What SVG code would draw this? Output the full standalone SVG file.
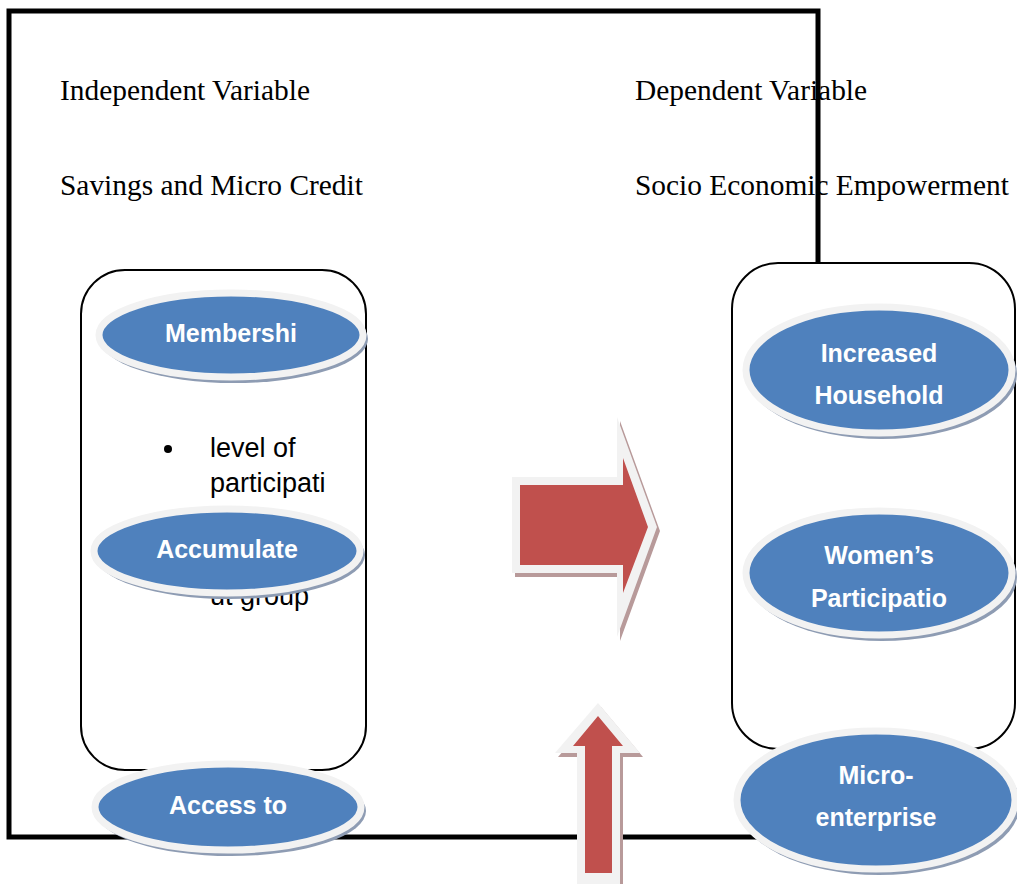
<svg xmlns="http://www.w3.org/2000/svg" width="1017" height="884" viewBox="0 0 1017 884">
  <style>
    .title { font-family: "Liberation Serif", "Times New Roman", serif; font-size: 29.4px; fill: #000; }
    .body { font-family: "Liberation Sans", Arial, sans-serif; font-size: 27px; fill: #000; }
    .lbl { font-family: "Liberation Sans", Arial, sans-serif; font-size: 25px; font-weight: bold; fill: #fff; text-anchor: middle; }
    .frame { fill: none; stroke: #000; stroke-width: 5; }
    .box { fill: #fff; stroke: #000; stroke-width: 2; }
    .oval { fill: #4f81bd; stroke: #f2f2f2; stroke-width: 7; }
    .oval-shadow { fill: #8e9cb3; }
    .arrow-rim { fill: #f2f2f2; }
    .arrow-body { fill: #c0504d; }
    .arrow-shadow { fill: #b89a9a; }
  </style>

  <rect width="1017" height="884" fill="#fff"/>

  <!-- headings -->
  <g id="headings">
    <text class="title" x="60" y="100">Independent Variable</text>
    <text class="title" x="60" y="195">Savings and Micro Credit</text>
    <text class="title" x="635" y="100">Dependent Variable</text>
    <text class="title" x="635" y="195">Socio Economic Empowerment</text>
  </g>

  <!-- outer frame -->
  <rect id="frame" class="frame" x="9" y="11" width="809" height="826"/>

  <!-- independent variable box -->
  <g id="independent-box">
    <rect class="box" x="81" y="270" width="285" height="500" rx="44" ry="44"/>
    <circle cx="168" cy="449" r="4" fill="#000"/>
    <text class="body" x="210" y="457">level of</text>
    <text class="body" x="210" y="492">participati</text>
    <text class="body" x="210" y="605">ut group</text>
  </g>

  <!-- dependent variable box -->
  <g id="dependent-box">
    <rect class="box" x="732" y="263" width="283" height="486" rx="46" ry="46"/>
  </g>

  <!-- independent variable nodes -->
  <g id="membership">
    <ellipse class="oval-shadow" cx="234" cy="339" rx="134" ry="44"/>
    <ellipse class="oval" cx="231" cy="335" rx="132" ry="42"/>
    <text class="lbl" x="231" y="342">Membershi</text>
  </g>
  <g id="accumulate">
    <ellipse class="oval-shadow" cx="230" cy="555" rx="135" ry="44"/>
    <ellipse class="oval" cx="227" cy="551" rx="133" ry="42"/>
    <text class="lbl" x="227" y="558">Accumulate</text>
  </g>
  <g id="access">
    <ellipse class="oval-shadow" cx="231" cy="811" rx="135" ry="45"/>
    <ellipse class="oval" cx="228" cy="807" rx="133" ry="43"/>
    <text class="lbl" x="228" y="814">Access to</text>
  </g>

  <!-- dependent variable nodes -->
  <g id="household">
    <ellipse class="oval-shadow" cx="882" cy="374" rx="135" ry="65"/>
    <ellipse class="oval" cx="879" cy="370" rx="133" ry="63"/>
    <text class="lbl" x="879" y="362">Increased</text>
    <text class="lbl" x="879" y="404">Household</text>
  </g>
  <g id="participation">
    <ellipse class="oval-shadow" cx="882" cy="577" rx="135" ry="64"/>
    <ellipse class="oval" cx="879" cy="573" rx="133" ry="62"/>
    <text class="lbl" x="879" y="564">Women’s</text>
    <text class="lbl" x="879" y="607">Participatio</text>
  </g>
  <g id="micro-enterprise">
    <ellipse class="oval-shadow" cx="879" cy="804" rx="141" ry="71"/>
    <ellipse class="oval" cx="876" cy="800" rx="139" ry="69"/>
    <text class="lbl" x="876" y="784">Micro-</text>
    <text class="lbl" x="876" y="826">enterprise</text>
  </g>

  <!-- connectors -->
  <g id="connectors">
    <g id="arrow-right">
      <polygon class="arrow-shadow" points="515,481 620,481 620,421 660,531 620,641 620,577 515,577"/>
      <polygon class="arrow-rim" points="512,477 617,477 617,417 657,527 617,637 617,573 512,573"/>
      <polygon class="arrow-body" points="520,485 623,485 623,458 648,527 623,593 623,565 520,565"/>
    </g>
    <g id="arrow-up">
      <polygon class="arrow-shadow" points="601,707 643,757 623,757 623,888 580,888 580,757 558,757"/>
      <polygon class="arrow-rim" points="598,703 640,753 620,753 620,884 577,884 577,753 555,753"/>
      <polygon class="arrow-body" points="598,716 623,746 612,746 612,873 585,873 585,746 573,746"/>
    </g>
  </g>
</svg>
